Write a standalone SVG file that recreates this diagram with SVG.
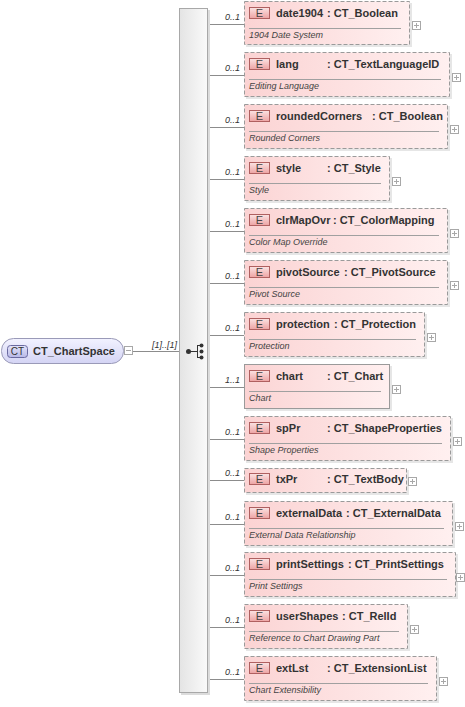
<svg xmlns="http://www.w3.org/2000/svg" width="465" height="707" viewBox="0 0 465 707">
<defs>
<linearGradient id="pink" x1="0" y1="0" x2="1" y2="0">
<stop offset="0" stop-color="#fbd3d3"/><stop offset="1" stop-color="#fff0f0"/>
</linearGradient>
<linearGradient id="ebadge" x1="0" y1="0" x2="0" y2="1">
<stop offset="0" stop-color="#fbe3e3"/><stop offset="1" stop-color="#eda3a3"/>
</linearGradient>
<linearGradient id="bar" x1="0" y1="0" x2="1" y2="0">
<stop offset="0" stop-color="#e4e4e4"/><stop offset="1" stop-color="#fafafa"/>
</linearGradient>
<linearGradient id="root" x1="0" y1="0" x2="0" y2="1">
<stop offset="0" stop-color="#f2f2ff"/><stop offset="1" stop-color="#d4d4f4"/>
</linearGradient>
<linearGradient id="ctbadge" x1="0" y1="0" x2="0" y2="1">
<stop offset="0" stop-color="#e4e4fa"/><stop offset="1" stop-color="#b8b8e6"/>
</linearGradient>
</defs>
<style>
.box{fill:url(#pink);stroke:#9a9a9a;stroke-width:1;stroke-dasharray:4,2}
.solid{fill:url(#pink);stroke:#9a9a9a;stroke-width:1}
.sh{fill:#e6e6e6}
.eb{fill:url(#ebadge);stroke:#b06060;stroke-width:1}
.et{font-family:"Liberation Sans",Arial,sans-serif;font-size:11px;fill:#444;text-anchor:middle}
.nm{font-family:"Liberation Sans",Arial,sans-serif;font-size:11px;font-weight:bold;fill:#333}
.ds{font-family:"Liberation Sans",Arial,sans-serif;font-size:9px;font-style:italic;fill:#444}
.ml{font-family:"Liberation Sans",Arial,sans-serif;font-size:9px;font-style:italic;fill:#333;text-anchor:end}
.sep{stroke:#a0a0a0;stroke-width:1}
.pb{fill:#fff;stroke:#a8a8a8;stroke-width:1}
.ps{stroke:#a8a8a8;stroke-width:1}
.cn{stroke:#8c8c8c;stroke-width:1;fill:none}
</style>

<g id="connectors">
<line class="cn" x1="133" y1="351.5" x2="179" y2="351.5"/>
<line class="cn" x1="208" y1="24.5" x2="244" y2="24.5"/>
<line class="cn" x1="208" y1="75.5" x2="244" y2="75.5"/>
<line class="cn" x1="208" y1="127.5" x2="244" y2="127.5"/>
<line class="cn" x1="208" y1="179.5" x2="244" y2="179.5"/>
<line class="cn" x1="208" y1="231.5" x2="244" y2="231.5"/>
<line class="cn" x1="208" y1="283.5" x2="244" y2="283.5"/>
<line class="cn" x1="208" y1="335.5" x2="244" y2="335.5"/>
<line class="cn" x1="208" y1="387.5" x2="244" y2="387.5"/>
<line class="cn" x1="208" y1="439.5" x2="244" y2="439.5"/>
<line class="cn" x1="208" y1="480.5" x2="244" y2="480.5"/>
<line class="cn" x1="208" y1="524.5" x2="244" y2="524.5"/>
<line class="cn" x1="208" y1="575.5" x2="244" y2="575.5"/>
<line class="cn" x1="208" y1="627.5" x2="244" y2="627.5"/>
<line class="cn" x1="208" y1="679.5" x2="244" y2="679.5"/>
<text class="ml" x="177" y="348">[1]..[1]</text>
<text class="ml" x="240" y="20">0..1</text>
<text class="ml" x="240" y="71">0..1</text>
<text class="ml" x="240" y="123">0..1</text>
<text class="ml" x="240" y="175">0..1</text>
<text class="ml" x="240" y="227">0..1</text>
<text class="ml" x="240" y="279">0..1</text>
<text class="ml" x="240" y="331">0..1</text>
<text class="ml" x="240" y="383">1..1</text>
<text class="ml" x="240" y="435">0..1</text>
<text class="ml" x="240" y="476">0..1</text>
<text class="ml" x="240" y="520">0..1</text>
<text class="ml" x="240" y="571">0..1</text>
<text class="ml" x="240" y="623">0..1</text>
<text class="ml" x="240" y="675">0..1</text>
</g>

<g id="CT_ChartSpace">
<rect x="1.5" y="338.5" width="122" height="25" rx="12" ry="12" fill="url(#root)" stroke="#9a9ab8"/>
<rect x="7.5" y="345.5" width="20" height="12" rx="3" fill="url(#ctbadge)" stroke="#6a6aa0"/>
<text x="17.5" y="355" font-family="Liberation Sans,Arial,sans-serif" font-size="10" fill="#333" text-anchor="middle">CT</text>
<text class="nm" x="33" y="355">CT_ChartSpace</text>
<rect class="pb" x="124.5" y="346.5" width="8" height="8"/>
<line class="ps" x1="126" y1="350.5" x2="131" y2="350.5"/>
</g>

<g id="sequence">
<rect x="181" y="10" width="29" height="685" fill="#dcdcdc"/>
<rect x="179.5" y="8.5" width="28" height="684" fill="url(#bar)" stroke="#a8a8a8"/>
<circle cx="188.5" cy="351.5" r="2.5" fill="#333"/>
<line x1="188" y1="351.5" x2="197" y2="351.5" stroke="#333"/>
<line x1="197.5" y1="345" x2="197.5" y2="358" stroke="#333"/>
<line x1="197" y1="345.5" x2="201" y2="345.5" stroke="#333"/>
<line x1="197" y1="357.5" x2="201" y2="357.5" stroke="#333"/>
<circle cx="201.5" cy="345.5" r="2" fill="#333"/>
<circle cx="201.5" cy="351.5" r="2" fill="#333"/>
<circle cx="201.5" cy="357.5" r="2" fill="#333"/>
</g>

<g id="date1904">
<rect class="sh" x="246" y="3" width="166" height="44"/>
<rect class="box" x="244.5" y="1.5" width="165" height="43"/>
<rect class="eb" x="249.5" y="7.5" width="20" height="11"/>
<text class="et" x="259.5" y="17">E</text>
<text class="nm" x="276" y="17">date1904</text>
<text class="nm" x="327" y="17">: CT_Boolean</text>
<line class="sep" x1="249" y1="28.5" x2="401" y2="28.5"/>
<text class="ds" x="249" y="38">1904 Date System</text>
<rect class="pb" x="412.5" y="21.5" width="8" height="8"/>
<line class="ps" x1="414" y1="25.5" x2="419" y2="25.5"/><line class="ps" x1="416.5" y1="23" x2="416.5" y2="28"/>
</g>

<g id="lang">
<rect class="sh" x="246" y="54" width="206" height="45"/>
<rect class="box" x="244.5" y="52.5" width="205" height="44"/>
<rect class="eb" x="249.5" y="58.5" width="20" height="11"/>
<text class="et" x="259.5" y="68">E</text>
<text class="nm" x="276" y="68">lang</text>
<text class="nm" x="327" y="68">: CT_TextLanguageID</text>
<line class="sep" x1="249" y1="79.5" x2="441" y2="79.5"/>
<text class="ds" x="249" y="89">Editing Language</text>
<rect class="pb" x="452.5" y="73.5" width="8" height="8"/>
<line class="ps" x1="454" y1="77.5" x2="459" y2="77.5"/><line class="ps" x1="456.5" y1="75" x2="456.5" y2="80"/>
</g>

<g id="roundedCorners">
<rect class="sh" x="246" y="106" width="204" height="45"/>
<rect class="box" x="244.5" y="104.5" width="203" height="44"/>
<rect class="eb" x="249.5" y="110.5" width="20" height="11"/>
<text class="et" x="259.5" y="120">E</text>
<text class="nm" x="276" y="120">roundedCorners</text>
<text class="nm" x="372" y="120">: CT_Boolean</text>
<line class="sep" x1="249" y1="131.5" x2="439" y2="131.5"/>
<text class="ds" x="249" y="141">Rounded Corners</text>
<rect class="pb" x="450.5" y="125.5" width="8" height="8"/>
<line class="ps" x1="452" y1="129.5" x2="457" y2="129.5"/><line class="ps" x1="454.5" y1="127" x2="454.5" y2="132"/>
</g>

<g id="style">
<rect class="sh" x="246" y="158" width="146" height="45"/>
<rect class="box" x="244.5" y="156.5" width="145" height="44"/>
<rect class="eb" x="249.5" y="162.5" width="20" height="11"/>
<text class="et" x="259.5" y="172">E</text>
<text class="nm" x="276" y="172">style</text>
<text class="nm" x="327" y="172">: CT_Style</text>
<line class="sep" x1="249" y1="183.5" x2="381" y2="183.5"/>
<text class="ds" x="249" y="193">Style</text>
<rect class="pb" x="392.5" y="177.5" width="8" height="8"/>
<line class="ps" x1="394" y1="181.5" x2="399" y2="181.5"/><line class="ps" x1="396.5" y1="179" x2="396.5" y2="184"/>
</g>

<g id="clrMapOvr">
<rect class="sh" x="246" y="210" width="204" height="45"/>
<rect class="box" x="244.5" y="208.5" width="203" height="44"/>
<rect class="eb" x="249.5" y="214.5" width="20" height="11"/>
<text class="et" x="259.5" y="224">E</text>
<text class="nm" x="276" y="224">clrMapOvr</text>
<text class="nm" x="333" y="224">: CT_ColorMapping</text>
<line class="sep" x1="249" y1="235.5" x2="439" y2="235.5"/>
<text class="ds" x="249" y="245">Color Map Override</text>
<rect class="pb" x="450.5" y="229.5" width="8" height="8"/>
<line class="ps" x1="452" y1="233.5" x2="457" y2="233.5"/><line class="ps" x1="454.5" y1="231" x2="454.5" y2="236"/>
</g>

<g id="pivotSource">
<rect class="sh" x="246" y="262" width="204" height="45"/>
<rect class="box" x="244.5" y="260.5" width="203" height="44"/>
<rect class="eb" x="249.5" y="266.5" width="20" height="11"/>
<text class="et" x="259.5" y="276">E</text>
<text class="nm" x="276" y="276">pivotSource</text>
<text class="nm" x="344" y="276">: CT_PivotSource</text>
<line class="sep" x1="249" y1="287.5" x2="439" y2="287.5"/>
<text class="ds" x="249" y="297">Pivot Source</text>
<rect class="pb" x="450.5" y="281.5" width="8" height="8"/>
<line class="ps" x1="452" y1="285.5" x2="457" y2="285.5"/><line class="ps" x1="454.5" y1="283" x2="454.5" y2="288"/>
</g>

<g id="protection">
<rect class="sh" x="246" y="314" width="181" height="45"/>
<rect class="box" x="244.5" y="312.5" width="180" height="44"/>
<rect class="eb" x="249.5" y="318.5" width="20" height="11"/>
<text class="et" x="259.5" y="328">E</text>
<text class="nm" x="276" y="328">protection</text>
<text class="nm" x="334" y="328">: CT_Protection</text>
<line class="sep" x1="249" y1="339.5" x2="416" y2="339.5"/>
<text class="ds" x="249" y="349">Protection</text>
<rect class="pb" x="427.5" y="333.5" width="8" height="8"/>
<line class="ps" x1="429" y1="337.5" x2="434" y2="337.5"/><line class="ps" x1="431.5" y1="335" x2="431.5" y2="340"/>
</g>

<g id="chart">
<rect class="sh" x="246" y="366" width="146" height="45"/>
<rect class="solid" x="244.5" y="364.5" width="145" height="44"/>
<rect class="eb" x="249.5" y="370.5" width="20" height="11"/>
<text class="et" x="259.5" y="380">E</text>
<text class="nm" x="276" y="380">chart</text>
<text class="nm" x="327" y="380">: CT_Chart</text>
<line class="sep" x1="249" y1="391.5" x2="381" y2="391.5"/>
<text class="ds" x="249" y="401">Chart</text>
<rect class="pb" x="392.5" y="385.5" width="8" height="8"/>
<line class="ps" x1="394" y1="389.5" x2="399" y2="389.5"/><line class="ps" x1="396.5" y1="387" x2="396.5" y2="392"/>
</g>

<g id="spPr">
<rect class="sh" x="246" y="418" width="207" height="45"/>
<rect class="box" x="244.5" y="416.5" width="206" height="44"/>
<rect class="eb" x="249.5" y="422.5" width="20" height="11"/>
<text class="et" x="259.5" y="432">E</text>
<text class="nm" x="276" y="432">spPr</text>
<text class="nm" x="327" y="432">: CT_ShapeProperties</text>
<line class="sep" x1="249" y1="443.5" x2="442" y2="443.5"/>
<text class="ds" x="249" y="453">Shape Properties</text>
<rect class="pb" x="453.5" y="437.5" width="8" height="8"/>
<line class="ps" x1="455" y1="441.5" x2="460" y2="441.5"/><line class="ps" x1="457.5" y1="439" x2="457.5" y2="444"/>
</g>

<g id="txPr">
<rect class="sh" x="246" y="470" width="163" height="25"/>
<rect class="box" x="244.5" y="468.5" width="162" height="24"/>
<rect class="eb" x="249.5" y="473.5" width="20" height="11"/>
<text class="et" x="259.5" y="483">E</text>
<text class="nm" x="276" y="483">txPr</text>
<text class="nm" x="327" y="483">: CT_TextBody</text>
<rect class="pb" x="408.5" y="477.5" width="8" height="8"/>
<line class="ps" x1="410" y1="481.5" x2="415" y2="481.5"/><line class="ps" x1="412.5" y1="479" x2="412.5" y2="484"/>
</g>

<g id="externalData">
<rect class="sh" x="246" y="503" width="209" height="45"/>
<rect class="box" x="244.5" y="501.5" width="208" height="44"/>
<rect class="eb" x="249.5" y="507.5" width="20" height="11"/>
<text class="et" x="259.5" y="517">E</text>
<text class="nm" x="276" y="517">externalData</text>
<text class="nm" x="346" y="517">: CT_ExternalData</text>
<line class="sep" x1="249" y1="528.5" x2="444" y2="528.5"/>
<text class="ds" x="249" y="538">External Data Relationship</text>
<rect class="pb" x="455.5" y="522.5" width="8" height="8"/>
<line class="ps" x1="457" y1="526.5" x2="462" y2="526.5"/><line class="ps" x1="459.5" y1="524" x2="459.5" y2="529"/>
</g>

<g id="printSettings">
<rect class="sh" x="246" y="554" width="212" height="45"/>
<rect class="box" x="244.5" y="552.5" width="211" height="44"/>
<rect class="eb" x="249.5" y="558.5" width="20" height="11"/>
<text class="et" x="259.5" y="568">E</text>
<text class="nm" x="276" y="568">printSettings</text>
<text class="nm" x="348" y="568">: CT_PrintSettings</text>
<line class="sep" x1="249" y1="579.5" x2="447" y2="579.5"/>
<text class="ds" x="249" y="589">Print Settings</text>
<rect class="pb" x="456.5" y="573.5" width="8" height="8"/>
<line class="ps" x1="458" y1="577.5" x2="463" y2="577.5"/><line class="ps" x1="460.5" y1="575" x2="460.5" y2="580"/>
</g>

<g id="userShapes">
<rect class="sh" x="246" y="606" width="164" height="45"/>
<rect class="box" x="244.5" y="604.5" width="163" height="44"/>
<rect class="eb" x="249.5" y="610.5" width="20" height="11"/>
<text class="et" x="259.5" y="620">E</text>
<text class="nm" x="276" y="620">userShapes</text>
<text class="nm" x="342" y="620">: CT_RelId</text>
<line class="sep" x1="249" y1="631.5" x2="399" y2="631.5"/>
<text class="ds" x="249" y="641">Reference to Chart Drawing Part</text>
<rect class="pb" x="410.5" y="625.5" width="8" height="8"/>
<line class="ps" x1="412" y1="629.5" x2="417" y2="629.5"/><line class="ps" x1="414.5" y1="627" x2="414.5" y2="632"/>
</g>

<g id="extLst">
<rect class="sh" x="246" y="658" width="193" height="45"/>
<rect class="box" x="244.5" y="656.5" width="192" height="44"/>
<rect class="eb" x="249.5" y="662.5" width="20" height="11"/>
<text class="et" x="259.5" y="672">E</text>
<text class="nm" x="276" y="672">extLst</text>
<text class="nm" x="327" y="672">: CT_ExtensionList</text>
<line class="sep" x1="249" y1="683.5" x2="428" y2="683.5"/>
<text class="ds" x="249" y="693">Chart Extensibility</text>
<rect class="pb" x="439.5" y="677.5" width="8" height="8"/>
<line class="ps" x1="441" y1="681.5" x2="446" y2="681.5"/><line class="ps" x1="443.5" y1="679" x2="443.5" y2="684"/>
</g>
</svg>
